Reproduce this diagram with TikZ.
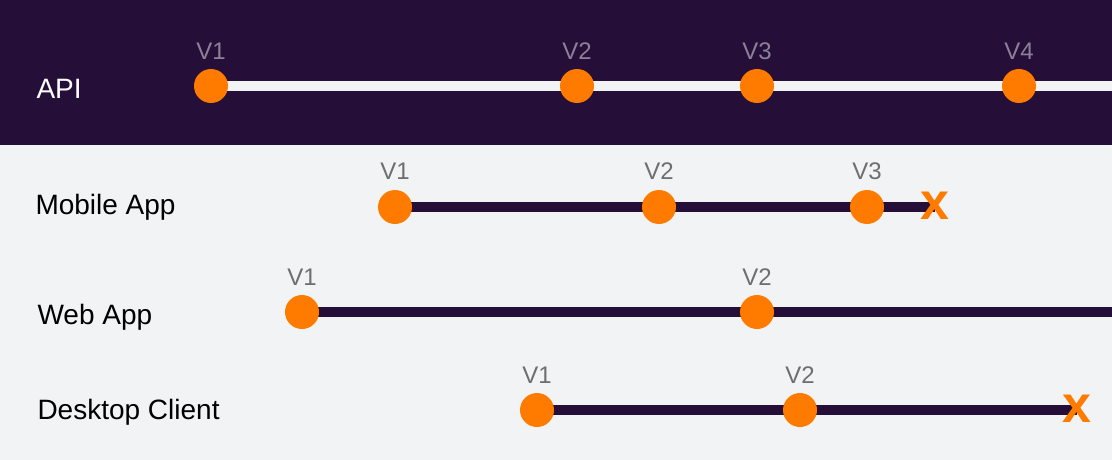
\documentclass[tikz,border=0pt]{standalone}
\usepackage{fontspec}
\setmainfont{Liberation Sans}
\usepackage{xcolor}
\usetikzlibrary{backgrounds}

\definecolor{band}{HTML}{250E38}
\definecolor{paper}{HTML}{F2F3F5}
\definecolor{dot}{HTML}{FF7B00}
\definecolor{tagdark}{HTML}{8C8098}
\definecolor{taglight}{HTML}{6E6E6E}

\begin{document}
\begin{tikzpicture}[x=1pt, y=-1pt,
	dot/.style={circle, fill=dot, minimum size=34pt, inner sep=0pt},
	tag/.style={font=\fontsize{24}{27}\selectfont, text=taglight},
	rowname/.style={anchor=west, font=\fontsize{28}{32}\selectfont, text=black},
	track/.style={line width=10pt, band},
	stop/.style={font=\fontsize{52}{52}\selectfont\bfseries, text=dot, inner sep=0pt}]
		\useasboundingbox (0,0) rectangle (1112,460);
		
		% 1. API
		\node[rowname, text=white] (api) at (33,89) {API};
		\foreach \x/\v in {211/1, 577/2, 757/3, 1019/4} {
			\node[dot] (api\v) at (\x,86) {};
			\node[tag, text=tagdark] at (\x,51) {V\v};
		}
		\coordinate (apiend) at (1112,86);
		
		% 2. Mobile App
		\node[rowname] (mobile) at (32,207) {Mobile App};
		\foreach \x/\v in {395/1, 659/2, 867/3} {
			\node[dot] (mob\v) at (\x,207) {};
			\node[tag] at (\x,171) {V\v};
		}
		\node[stop] (mobx) at (935,206) {x};
		
		% 3. Web App
		\node[rowname] (web) at (34,317) {Web App};
		\foreach \x/\v in {302/1, 757/2} {
			\node[dot] (web\v) at (\x,312) {};
			\node[tag] at (\x,277) {V\v};
		}
		\coordinate (webend) at (1112,312);
		
		% 4. Desktop Client
		\node[rowname] (desk) at (34,412) {Desktop Client};
		\foreach \x/\v in {537/1, 800/2} {
			\node[dot] (desk\v) at (\x,410) {};
			\node[tag] at (\x,375) {V\v};
		}
		\node[stop] (deskx) at (1077,409) {x};
		
		% 5. 背景与时间线
		\begin{scope}[on background layer]
			\fill[paper] (0,0) rectangle (1112,460);
			\fill[band] (0,0) rectangle (1112,145);
			\draw[track, paper] (api1.center) -- (apiend);
			\draw[track] (mob1.center) -- (mobx.center |- mob1.center);
			\draw[track] (web1.center) -- (webend);
			\draw[track] (desk1.center) -- (deskx.center |- desk1.center);
		\end{scope}
	\end{tikzpicture}
\end{document}
